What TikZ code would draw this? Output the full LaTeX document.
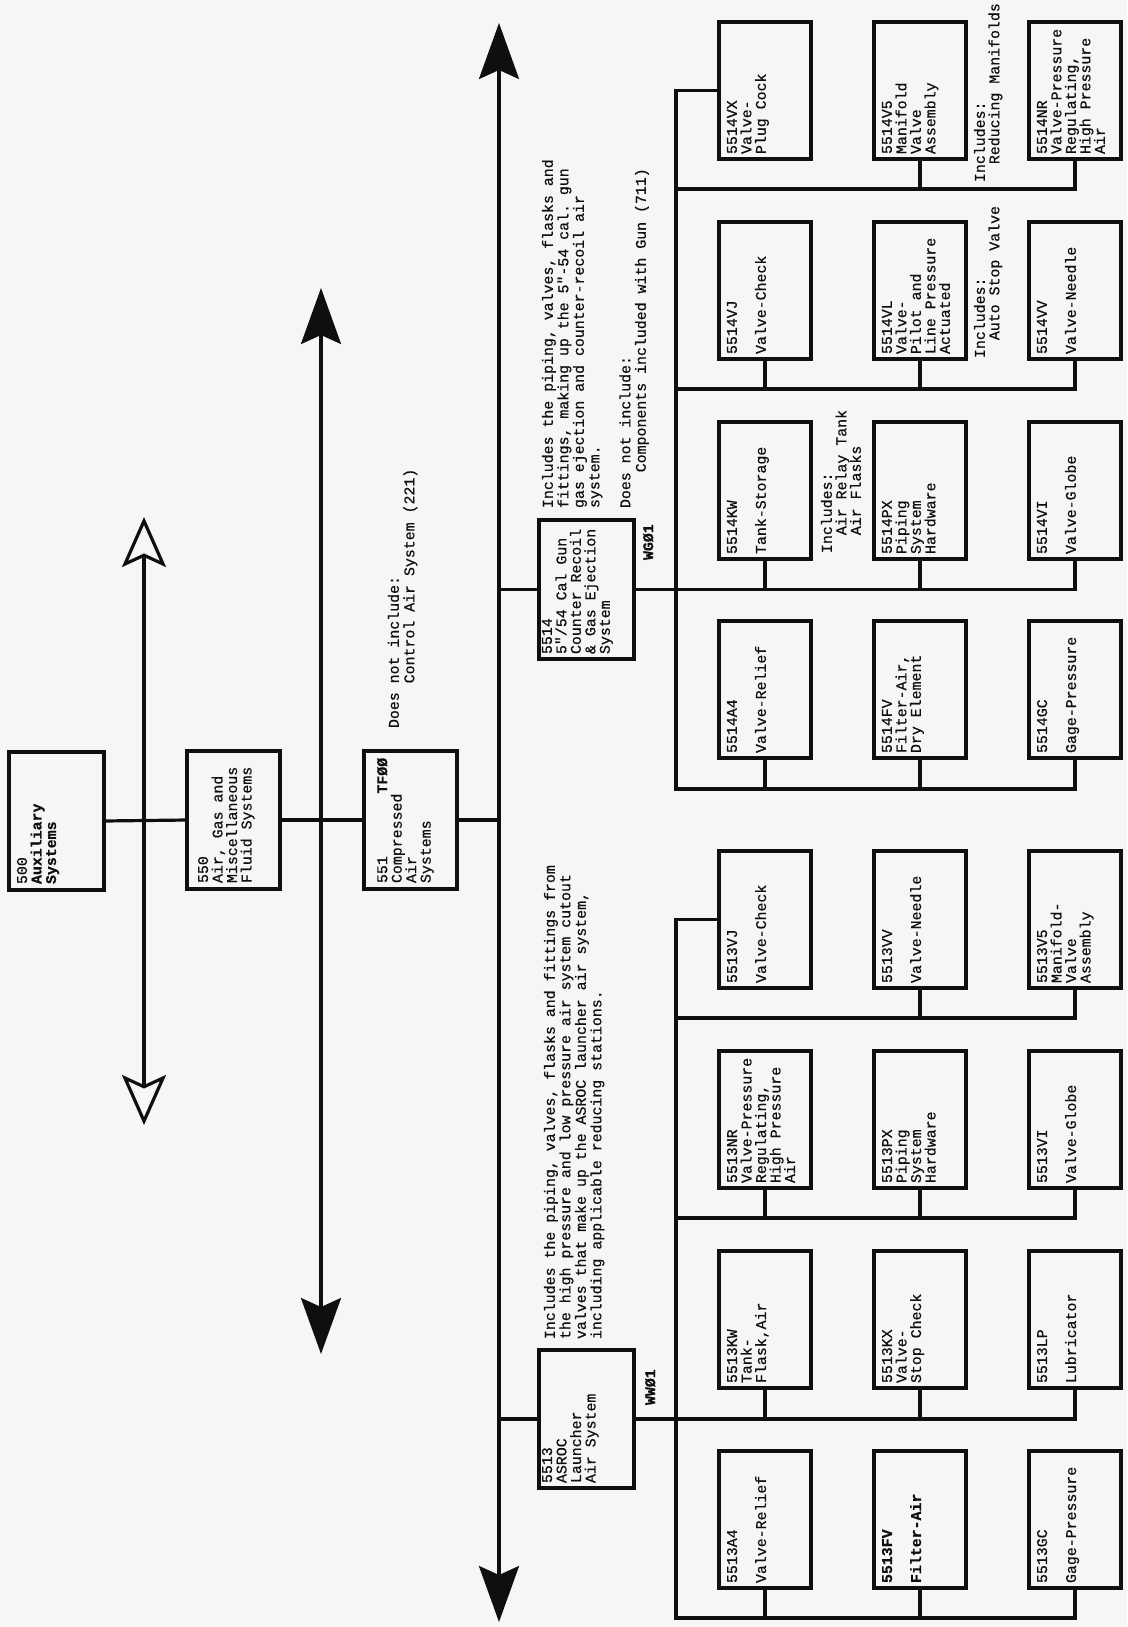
\documentclass[tikz,border=0pt]{standalone}
\usepackage{fontspec}
\setmonofont{Liberation Mono}[FakeBold=0.6]
\usetikzlibrary{arrows.meta,calc}
\newcommand\twf{\fontsize{14.9}{14.5}\selectfont\ttfamily}
\newcommand\twd{\fontsize{14.9}{15.5}\selectfont\ttfamily}
\definecolor{paper}{RGB}{246,246,244}
\definecolor{ink}{RGB}{15,15,15}
\tikzset{
  ln/.style={draw=ink, line width=3.2pt, line cap=rect},
  box/.style={draw=ink, line width=3.2pt, minimum width=92pt, minimum height=137pt, inner sep=0pt, outer sep=0pt},
  lbl/.style={rotate=90, anchor=north west, inner sep=0pt, outer sep=0pt, align=left, font=\twf, text=ink},
  bigfill/.tip={Stealth[length=56pt,width=40pt,inset=9pt]},
  bigopen/.tip={Stealth[open,length=50pt,width=44pt,inset=10pt]},
}
\newcommand\gbox[4]{%
  \node[box] (#1) at (#2,-#3) {};
  \node[lbl] (#1t) at ($(#1.south west)+(8,5)$) {#4};}
\begin{document}
\begin{tikzpicture}[x=1pt,y=1pt]
\fill[paper] (0,0) rectangle (1127,-1627);
\useasboundingbox (0,0) rectangle (1127,-1627);

% ---------- main vertical lines ----------
\coordinate (L1t) at (144,-517);
\coordinate (L1b) at (144,-1125);
\coordinate (L2t) at (321,-288);
\coordinate (L2b) at (321,-1354);
\coordinate (L3t) at (499,-23);
\coordinate (L3b) at (499,-1622);
\draw[ln, line cap=butt, bigopen-bigopen] (L1b) -- (L1t);
\draw[ln, line cap=butt, bigfill-bigfill] (L2b) -- (L2t);
\draw[ln, line cap=butt, bigfill-bigfill] (L3b) -- (L3t);

% ---------- top level boxes ----------
\node[box, minimum width=95pt, minimum height=138pt] (b500) at (56.5,-821) {};
\node[lbl] (b500t) at ($(b500.south west)+(8,6)$) {500\\\textbf{Auxiliary}\\\textbf{Systems}};
\node[box, minimum width=93pt, minimum height=138pt] (b550) at (233.5,-820) {};
\node[lbl] (b550t) at ($(b550.south west)+(11,6)$) {550\\Air, Gas and\\Miscellaneous\\Fluid Systems};
\node[box, minimum width=93pt, minimum height=138pt] (b551) at (410.5,-820) {};
\node[lbl] (b551t) at ($(b551.south west)+(13,6)$) {551\phantom{xxxxxxx}\textbf{TFØØ}\\Compressed\\Air\\Systems};

\draw[ln] (b500.east) -- (b550.west);
\draw[ln] (b550.east) -- (b551.west);
\draw[ln] (b551.east) -- (b551.east -| L3t);

\node[lbl, font=\twd] (d551) at (388,-728) {Does not include:\\\phantom{xxxxx}Control Air System (221)};

% ---------- 5514 ----------
\node[box, minimum width=95pt, minimum height=139pt] (b5514) at (586.5,-589.5) {};
\node[lbl] (b5514t) at ($(b5514.south west)+(3,5)$) {5514\\5"/54 Cal Gun\\Counter Recoil\\\& Gas Ejection\\System};
\node[lbl] (wg) at (643,-560) {\textbf{WGØ1}};
\draw[ln] (b5514.west -| L3t) -- (b5514.west);
\node[lbl, font=\twd] (d5514) at (542,-508) {Includes the piping, valves, flasks and\\fittings, making up the 5"-54 cal. gun\\gas ejection and counter-recoil air\\system.\\[15.5pt]Does not include:\\\phantom{xxxx}Components included with Gun (711)};

\gbox{b14VX}{765}{90.5}{5514VX\\Valve-\\Plug Cock}
\gbox{b14V5}{920}{90.5}{5514V5\\Manifold\\Valve\\Assembly}
\gbox{b14NR}{1075}{90.5}{5514NR\\Valve-Pressure\\Regulating,\\High Pressure\\Air}
\gbox{b14VJ}{765}{290.5}{5514VJ\\[14.5pt]Valve-Check}
\gbox{b14VL}{920}{290.5}{5514VL\\Valve-\\Pilot and\\Line Pressure\\Actuated}
\gbox{b14VV}{1075}{290.5}{5514VV\\[14.5pt]Valve-Needle}
\gbox{b14KW}{765}{490.5}{5514KW\\[14.5pt]Tank-Storage}
\gbox{b14PX}{920}{490.5}{5514PX\\Piping\\System\\Hardware}
\gbox{b14VI}{1075}{490.5}{5514VI\\[14.5pt]Valve-Globe}
\gbox{b14A4}{765}{689.5}{5514A4\\[14.5pt]Valve-Relief}
\gbox{b14FV}{920}{689.5}{5514FV\\Filter-Air,\\Dry Element}
\gbox{b14GC}{1075}{689.5}{5514GC\\[14.5pt]Gage-Pressure}

\node[lbl] (n14a) at (974,-182) {Includes:\\\phantom{xx}Reducing Manifolds};
\node[lbl] (n14b) at (974,-358) {Includes:\\\phantom{xx}Auto Stop Valve};
\node[lbl] (n14c) at (821,-553) {Includes:\\\phantom{xx}Air Relay Tank\\\phantom{xx}Air Flasks};

\coordinate (t14top) at (676,-90.5);
\coordinate (t14A) at (676,-189);
\coordinate (t14B) at (676,-389);
\coordinate (t14bot) at (676,-789);
\draw[ln] (b14VX.west) -- (t14top) -- (t14bot) -| (b14GC.south);
\draw[ln] (t14A) -| (b14NR.south);
\draw[ln] (b14V5.south) -- (b14V5.south |- t14A);
\draw[ln] (t14B) -| (b14VV.south);
\draw[ln] (b14VJ.south) -- (b14VJ.south |- t14B);
\draw[ln] (b14VL.south) -- (b14VL.south |- t14B);
\draw[ln] (b5514.east) -| (b14VI.south);
\draw[ln] (b14KW.south) -- (b14KW.south |- b5514.east);
\draw[ln] (b14PX.south) -- (b14PX.south |- b5514.east);
\draw[ln] (b14A4.south) -- (b14A4.south |- t14bot);
\draw[ln] (b14FV.south) -- (b14FV.south |- t14bot);

% ---------- 5513 ----------
\node[box, minimum width=95pt, minimum height=138pt] (b5513) at (586.5,-1419) {};
\node[lbl] (b5513t) at ($(b5513.south west)+(3,5)$) {5513\\ASROC\\Launcher\\Air System};
\node[lbl] (ww) at (645,-1405) {\textbf{WWØ1}};
\draw[ln] (b5513.west -| L3t) -- (b5513.west);
\node[lbl, font=\twd] (d5513) at (544,-1339) {Includes the piping, valves, flasks and fittings from\\the high pressure and low pressure air system cutout\\valves that make up the ASROC launcher air system,\\including applicable reducing stations.};

\gbox{b13VJ}{765}{919.5}{5513VJ\\[14.5pt]Valve-Check}
\gbox{b13VV}{920}{919.5}{5513VV\\[14.5pt]Valve-Needle}
\gbox{b13V5}{1075}{919.5}{5513V5\\Manifold-\\Valve\\Assembly}
\gbox{b13NR}{765}{1119.5}{5513NR\\Valve-Pressure\\Regulating,\\High Pressure\\Air}
\gbox{b13PX}{920}{1119.5}{5513PX\\Piping\\System\\Hardware}
\gbox{b13VI}{1075}{1119.5}{5513VI\\[14.5pt]Valve-Globe}
\gbox{b13KW}{765}{1319.5}{5513KW\\Tank-\\Flask,Air}
\gbox{b13KX}{920}{1319.5}{5513KX\\Valve-\\Stop Check}
\gbox{b13LP}{1075}{1319.5}{5513LP\\[14.5pt]Lubricator}
\gbox{b13A4}{765}{1519.5}{5513A4\\[14.5pt]Valve-Relief}
\gbox{b13FV}{920}{1519.5}{\textbf{5513FV}\\[14.5pt]\textbf{Filter-Air}}
\gbox{b13GC}{1075}{1519.5}{5513GC\\[14.5pt]Gage-Pressure}

\coordinate (t13top) at (676,-919.5);
\coordinate (t13A) at (676,-1018);
\coordinate (t13B) at (676,-1218);
\coordinate (t13bot) at (676,-1618);
\draw[ln] (b13VJ.west) -- (t13top) -- (t13bot) -| (b13GC.south);
\draw[ln] (t13A) -| (b13V5.south);
\draw[ln] (b13VV.south) -- (b13VV.south |- t13A);
\draw[ln] (t13B) -| (b13VI.south);
\draw[ln] (b13NR.south) -- (b13NR.south |- t13B);
\draw[ln] (b13PX.south) -- (b13PX.south |- t13B);
\draw[ln] (b5513.east) -| (b13LP.south);
\draw[ln] (b13KW.south) -- (b13KW.south |- b5513.east);
\draw[ln] (b13KX.south) -- (b13KX.south |- b5513.east);
\draw[ln] (b13A4.south) -- (b13A4.south |- t13bot);
\draw[ln] (b13FV.south) -- (b13FV.south |- t13bot);
\end{tikzpicture}
\end{document}
